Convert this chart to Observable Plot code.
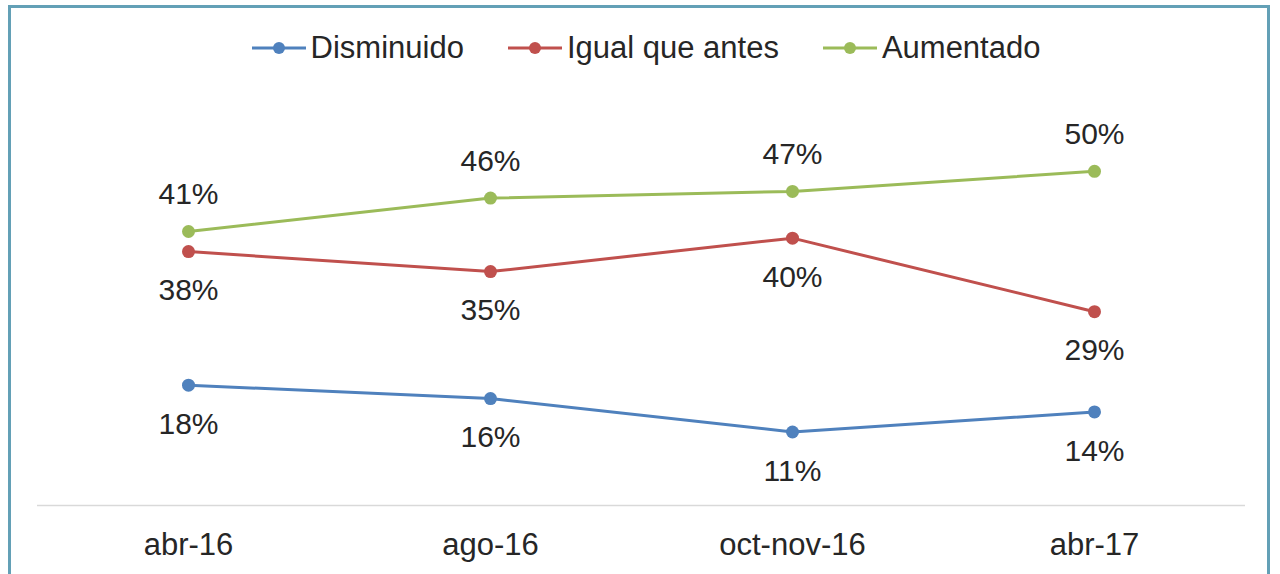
<!DOCTYPE html>
<html>
<head>
<meta charset="utf-8">
<script src="https://cdn.jsdelivr.net/npm/d3@7"></script>
<script src="https://cdn.jsdelivr.net/npm/@observablehq/plot@0.6"></script>
<style>
  html, body { margin: 0; padding: 0; background: #fff; }
  #wrap { position: relative; width: 1280px; height: 574px; overflow: hidden; font-family: "Liberation Sans", Arial, sans-serif; color: #262626; }
  #frame { position: absolute; left: 8px; top: 5px; width: 1262px; height: 600px; border: 3px solid #63a0b6; box-sizing: border-box; pointer-events: none; }
  #legend { position: absolute; left: 0; top: 0; width: 1280px; height: 80px; display: flex; justify-content: center; align-items: center; padding-left: 12px; padding-top: 16px; box-sizing: border-box; }
  .item { display: flex; align-items: center; margin: 0 22px; font-size: 31px; }
  .item svg { margin-right: 5px; }
  #chart { position: absolute; left: 0; top: 80px; }
</style>
</head>
<body>
<div id="wrap">
  <div id="legend"></div>
  <div id="chart"></div>
  <div id="frame"></div>
</div>
<script>
const periods = ["abr-16", "ago-16", "oct-nov-16", "abr-17"];
const seriesNames = ["Disminuido", "Igual que antes", "Aumentado"];
const seriesColors = ["#4f81bd", "#c0504d", "#9bbb59"];
const disminuido = [18, 16, 11, 14];
const igual = [38, 35, 40, 29];
const aumentado = [41, 46, 47, 50];

const values = [disminuido, igual, aumentado];
const data = [];
seriesNames.forEach((s, i) => periods.forEach((p, j) => data.push({serie: s, periodo: p, valor: values[i][j]})));

// Legend
const legend = document.getElementById("legend");
seriesNames.forEach((s, i) => {
  const item = document.createElement("div");
  item.className = "item";
  item.innerHTML = `<svg width="54" height="14"><line x1="0" y1="7" x2="54" y2="7" stroke="${seriesColors[i]}" stroke-width="3"/><circle cx="27" cy="7" r="6" fill="${seriesColors[i]}"/></svg><span>${s}</span>`;
  legend.appendChild(item);
});

const color = {domain: seriesNames, range: seriesColors};
const fontFamily = '"Liberation Sans", Arial, sans-serif';

const labelMarks = seriesNames.map((s, i) =>
  Plot.text(data.filter(d => d.serie === s), {
    x: "periodo", y: "valor", text: d => d.valor + "%",
    dy: s === "Aumentado" ? -37 : 39,
    fontSize: 30, fill: "#262626", lineAnchor: "middle"
  })
);

const chart = Plot.plot({
  width: 1280,
  height: 494,
  marginLeft: 37,
  marginRight: 35,
  marginTop: 24,
  marginBottom: 69,
  style: {fontFamily, background: "transparent", overflow: "visible"},
  x: {type: "point", domain: periods, padding: 0.5, label: null},
  y: {domain: [0, 60], axis: null},
  color,
  marks: [
    Plot.ruleY([0], {stroke: "#d9d9d9", strokeWidth: 1.5}),
    Plot.axisX({tickSize: 0, tickPadding: 27, fontSize: 31, fill: "#262626", label: null}),
    Plot.line(data, {x: "periodo", y: "valor", z: "serie", stroke: "serie", strokeWidth: 3}),
    Plot.dot(data, {x: "periodo", y: "valor", fill: "serie", r: 6.5}),
    ...labelMarks
  ]
});
document.getElementById("chart").appendChild(chart);
</script>
</body>
</html>
